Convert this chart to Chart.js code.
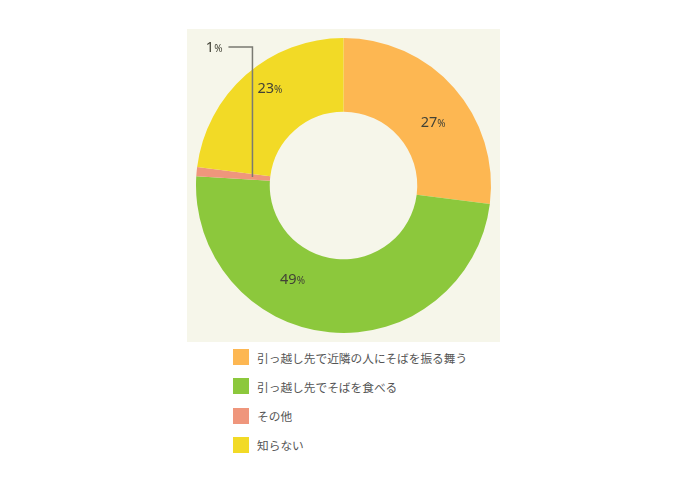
<!DOCTYPE html>
<html><head><meta charset="utf-8">
<script src="https://cdn.jsdelivr.net/npm/chart.js@4.4.1/dist/chart.umd.min.js"></script>
<style>
html,body{margin:0;padding:0;background:#fff;width:686px;height:490px;overflow:hidden;}
#wrap{position:absolute;left:187px;top:29px;width:313px;height:313px;background:#f6f6ea;}
#c{display:block;}
#legend{position:absolute;left:233px;top:349px;font-family:"Noto Sans CJK JP","Noto Sans",sans-serif;font-size:11.7px;color:#555;}
.item{display:flex;align-items:center;height:16px;margin-bottom:13.3px;white-space:nowrap;}
.sw{width:16px;height:16px;margin-right:8px;flex:none;}
</style></head><body>
<div id="wrap"><canvas id="c" width="313" height="313"></canvas></div>
<div id="legend"></div>
<script>
const categories = ['引っ越し先で近隣の人にそばを振る舞う', '引っ越し先でそばを食べる', 'その他', '知らない'];
const values = [27, 49, 1, 23];
const sliceColors = ['#fdb752', '#8cc83c', '#ef967c', '#f2da26'];

const sliceLabels = {
  id: 'sliceLabels',
  afterDatasetsDraw(chart, args, opts) {
    const ctx = chart.ctx;
    const meta = chart.getDatasetMeta(0);
    const data = chart.data.datasets[0].data;
    ctx.save();
    meta.data.forEach((arc, i) => {
      const v = data[i];
      const p = arc.getProps(['x','y','startAngle','endAngle','innerRadius','outerRadius'], true);
      const numTxt = String(v), pct = '%';
      const numFont = '14.5px "Noto Sans", sans-serif';
      const pctFont = '10px "Noto Sans", sans-serif';
      ctx.font = numFont;
      const w1 = ctx.measureText(numTxt).width;
      ctx.font = pctFont;
      const w2 = ctx.measureText(pct).width;
      let cx, cy;
      if (v < opts.minInside) {
        const a = (p.startAngle + p.endAngle) / 2;
        const r = p.innerRadius + (p.outerRadius - p.innerRadius) * 0.24;
        const px = p.x + Math.cos(a) * r, py = p.y + Math.sin(a) * r;
        const ty = opts.leaderTop;
        const hx = px - opts.leaderLen;
        ctx.strokeStyle = '#7a7a72';
        ctx.lineWidth = 1.5;
        ctx.beginPath();
        ctx.moveTo(px, py); ctx.lineTo(px, ty); ctx.lineTo(hx, ty);
        ctx.stroke();
        const right = hx - 6;
        cx = right - (w1 + w2) / 2;
        cy = ty;
      } else {
        const f = opts.anglePos[i];
        const rf = opts.radiusPos[i];
        const a = p.startAngle + (p.endAngle - p.startAngle) * f;
        const r = p.innerRadius + (p.outerRadius - p.innerRadius) * rf;
        cx = p.x + Math.cos(a) * r;
        cy = p.y + Math.sin(a) * r;
      }
      const left = cx - (w1 + w2) / 2;
      const base = cy + 5;
      ctx.fillStyle = '#424236';
      ctx.textAlign = 'left';
      ctx.textBaseline = 'alphabetic';
      ctx.font = numFont;
      ctx.fillText(numTxt, left, base);
      ctx.font = pctFont;
      ctx.fillText(pct, left + w1, base);
    });
    ctx.restore();
  }
};

const chart = new Chart(document.getElementById('c'), {
  type: 'doughnut',
  data: {
    labels: categories,
    datasets: [{ data: values, backgroundColor: sliceColors, borderWidth: 0, hoverOffset: 0 }]
  },
  options: {
    responsive: false,
    animation: false,
    cutout: '50%',
    layout: { padding: 9 },
    plugins: {
      legend: { display: false },
      tooltip: { enabled: false },
      sliceLabels: {
        minInside: 3,
        anglePos: [0.563, 0.632, 0.5, 0.554],
        radiusPos: [0.49, 0.44, 0.5, 0.66],
        leaderTop: 18,
        leaderLen: 24
      }
    }
  },
  plugins: [sliceLabels]
});

const items = Chart.overrides.doughnut.plugins.legend.labels.generateLabels(chart);
const leg = document.getElementById('legend');
items.forEach(it => {
  const d = document.createElement('div');
  d.className = 'item';
  const s = document.createElement('span');
  s.className = 'sw';
  s.style.background = it.fillStyle;
  const t = document.createElement('span');
  t.textContent = it.text;
  d.appendChild(s); d.appendChild(t);
  leg.appendChild(d);
});
</script>
</body></html>
